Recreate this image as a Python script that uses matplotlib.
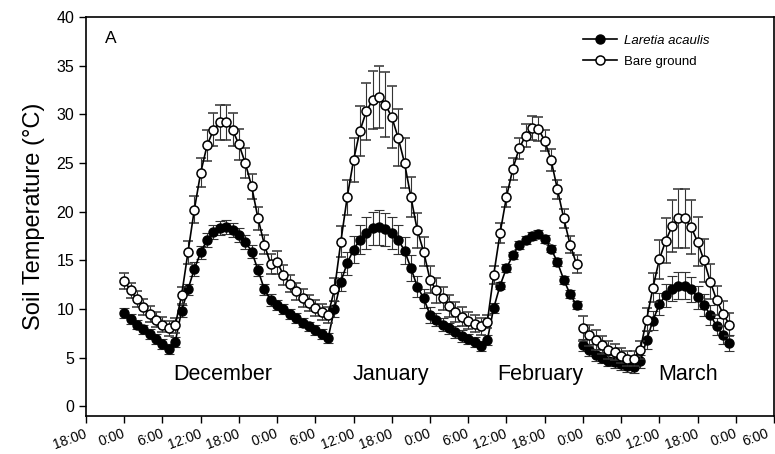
import numpy as np
import matplotlib
matplotlib.use('Agg')
import matplotlib.pyplot as plt
from matplotlib.lines import Line2D

plt.rcParams['font.family'] = ['Liberation Sans', 'DejaVu Sans']

# hours counted from 18:00 of the first day
dec_start = 6
dec_laretia = [9.6, 9.0, 8.4, 7.9, 7.4, 6.9, 6.4, 5.9, 6.6, 9.8, 12.0, 14.1, 15.8, 17.1, 17.9, 18.3,
               18.4, 18.1, 17.6, 16.9, 15.9, 14.0, 12.0, 10.9, 10.4, 10.0, 9.5, 9.1, 8.6, 8.2, 7.8, 7.4, 7.0]
dec_laretia_se = [0.5, 0.5, 0.5, 0.5, 0.5, 0.5, 0.5, 0.5, 0.5, 0.6, 0.6, 0.7, 0.7, 0.7, 0.7, 0.7,
                  0.7, 0.7, 0.7, 0.7, 0.7, 0.6, 0.6, 0.6, 0.5, 0.5, 0.5, 0.5, 0.5, 0.5, 0.5, 0.5, 0.5]
dec_bare = [12.9, 11.9, 11.0, 10.2, 9.5, 8.9, 8.4, 8.0, 8.3, 11.4, 15.8, 20.2, 24.0, 26.8, 28.4, 29.2,
            29.2, 28.4, 26.9, 25.0, 22.6, 19.3, 16.6, 14.6, 14.8, 13.5, 12.6, 11.8, 11.1, 10.6, 10.1, 9.7, 9.4]
dec_bare_se = [0.8, 0.8, 0.8, 0.8, 0.8, 0.8, 0.8, 0.8, 0.8, 0.9, 1.2, 1.4, 1.5, 1.6, 1.7, 1.8,
               1.8, 1.7, 1.6, 1.5, 1.3, 1.2, 1.0, 1.0, 1.2, 1.0, 0.9, 0.9, 0.9, 0.8, 0.8, 0.8, 0.8]

jan_start = 39
jan_laretia = [10.0, 12.8, 14.7, 16.1, 17.1, 17.8, 18.3, 18.4, 18.2, 17.8, 17.1, 16.0, 14.2, 12.3, 11.1, 9.4,
               8.9, 8.4, 8.0, 7.6, 7.2, 6.9, 6.6, 6.2]
jan_laretia_se = [0.8, 1.0, 1.2, 1.4, 1.5, 1.6, 1.7, 1.8, 1.7, 1.6, 1.5, 1.4, 1.3, 1.1, 1.0, 0.8,
                  0.7, 0.7, 0.6, 0.6, 0.6, 0.5, 0.5, 0.5]
jan_bare = [12.0, 16.9, 21.5, 25.3, 28.3, 30.3, 31.5, 31.8, 31.0, 29.7, 27.6, 25.0, 21.5, 18.1, 15.9, 13.0,
            11.9, 11.1, 10.3, 9.7, 9.2, 8.8, 8.5, 8.2]
jan_bare_se = [1.2, 1.6, 1.8, 2.3, 2.6, 2.9, 3.0, 3.2, 3.3, 3.2, 2.9, 2.6, 2.1, 1.8, 1.5, 1.4,
               1.3, 1.2, 1.1, 1.0, 1.0, 0.9, 0.9, 0.9]

feb_start = 63
feb_laretia = [6.8, 10.1, 12.4, 14.2, 15.5, 16.6, 17.1, 17.5, 17.7, 17.2, 16.2, 14.8, 13.0, 11.5, 10.4]
feb_laretia_se = [0.5, 0.5, 0.4, 0.4, 0.4, 0.4, 0.4, 0.4, 0.4, 0.4, 0.4, 0.4, 0.4, 0.4, 0.4]
feb_bare = [8.7, 13.5, 17.8, 21.5, 24.4, 26.5, 27.8, 28.6, 28.5, 27.3, 25.3, 22.3, 19.3, 16.6, 14.6]
feb_bare_se = [0.7, 0.9, 1.0, 1.0, 1.1, 1.1, 1.2, 1.2, 1.2, 1.1, 1.1, 1.0, 1.0, 0.9, 0.9]

mar_start = 78
mar_laretia = [6.3, 5.8, 5.3, 5.0, 4.7, 4.5, 4.3, 4.1, 4.0, 4.6, 6.8, 8.8, 10.5, 11.4, 12.1, 12.4,
               12.4, 12.0, 11.2, 10.4, 9.4, 8.2, 7.3, 6.5]
mar_laretia_se = [0.6, 0.6, 0.6, 0.6, 0.6, 0.6, 0.6, 0.6, 0.6, 0.7, 0.9, 1.0, 1.1, 1.2, 1.3, 1.4,
                  1.4, 1.3, 1.2, 1.1, 1.0, 0.9, 0.9, 0.8]
mar_bare = [8.0, 7.3, 6.8, 6.3, 5.8, 5.6, 5.2, 4.9, 4.9, 5.8, 8.9, 12.2, 15.1, 17.0, 18.5, 19.3,
            19.3, 18.4, 16.9, 15.0, 12.8, 10.9, 9.5, 8.4]
mar_bare_se = [1.3, 1.1, 1.0, 0.9, 0.9, 0.8, 0.8, 0.8, 0.8, 0.9, 1.2, 1.5, 2.0, 2.3, 2.7, 3.0,
               3.0, 2.8, 2.5, 2.2, 1.8, 1.5, 1.3, 1.2]

months = ['December', 'January', 'February', 'March']
month_label_x = [21.5, 47.9, 71.3, 94.5]
tick_names = ['18:00', '0:00', '6:00', '12:00']

# Dec-Feb are drawn as one connected line, March separate
segments = [
    (dec_start, dec_laretia + jan_laretia + feb_laretia, dec_laretia_se + jan_laretia_se + feb_laretia_se,
     dec_bare + jan_bare + feb_bare, dec_bare_se + jan_bare_se + feb_bare_se),
    (mar_start, mar_laretia, mar_laretia_se, mar_bare, mar_bare_se),
]

fig = plt.figure(figsize=(7.75, 4.54), dpi=100)
ax = fig.add_axes([0.111, 0.0837, 0.8877, 0.8789])

for start, lar, lar_se, bare, bare_se in segments:
    h = start + np.arange(len(lar))
    ax.errorbar(h, lar, yerr=lar_se, fmt='-o', color='black', ms=6.5, mfc='black', mec='black',
                lw=1.2, ecolor='#333333', elinewidth=0.8, capsize=3.8, capthick=0.8, zorder=2)
    ax.errorbar(h, bare, yerr=bare_se, fmt='-o', color='black', ms=6.5, mfc='white', mec='black',
                mew=1.1, lw=1.2, ecolor='#333333', elinewidth=0.8, capsize=3.8, capthick=0.8, zorder=3)

for name, mx in zip(months, month_label_x):
    ax.text(mx, 3.3, name, ha='center', va='center', fontsize=15.5)

ax.text(2.9, 37.8, 'A', fontsize=12.5, ha='left', va='center')

ax.set_xlim(0, 108)
ax.set_ylim(-1, 40)
ax.set_yticks(np.arange(0, 41, 5))
xt = np.arange(0, 109, 6)
ax.set_xticks(xt)
ax.set_xticklabels([])
# rotated time labels, the last one nudged left so it stays inside the figure
for k, t in enumerate(xt):
    dx = -5.5 if k == len(xt) - 1 else -1.5
    ax.annotate(tick_names[k % 4], xy=(t, 0), xycoords=ax.get_xaxis_transform(),
                xytext=(dx, -7.5), textcoords='offset points', rotation=20,
                rotation_mode='anchor', ha='right', va='top', fontsize=10,
                annotation_clip=False)
ax.tick_params(axis='y', labelsize=11.5, direction='out', length=5, width=1)
ax.tick_params(axis='x', direction='out', length=5, width=1)
ax.set_ylabel('Soil Temperature (°C)', fontsize=17, labelpad=8)
for s in ax.spines.values():
    s.set_linewidth(1.2)

handles = [
    Line2D([], [], color='black', lw=1.2, marker='o', ms=6.5, mfc='black', mec='black'),
    Line2D([], [], color='black', lw=1.2, marker='o', ms=6.5, mfc='white', mec='black', mew=1.1),
]
leg = ax.legend(handles, ['Laretia acaulis', 'Bare ground'], loc='upper left',
                bbox_to_anchor=(0.711, 0.975), frameon=False, fontsize=9.5,
                handlelength=2.6, handletextpad=0.5, labelspacing=0.65, borderaxespad=0.2)
leg.get_texts()[0].set_fontstyle('italic')

fig.savefig('out.png', dpi=100)
